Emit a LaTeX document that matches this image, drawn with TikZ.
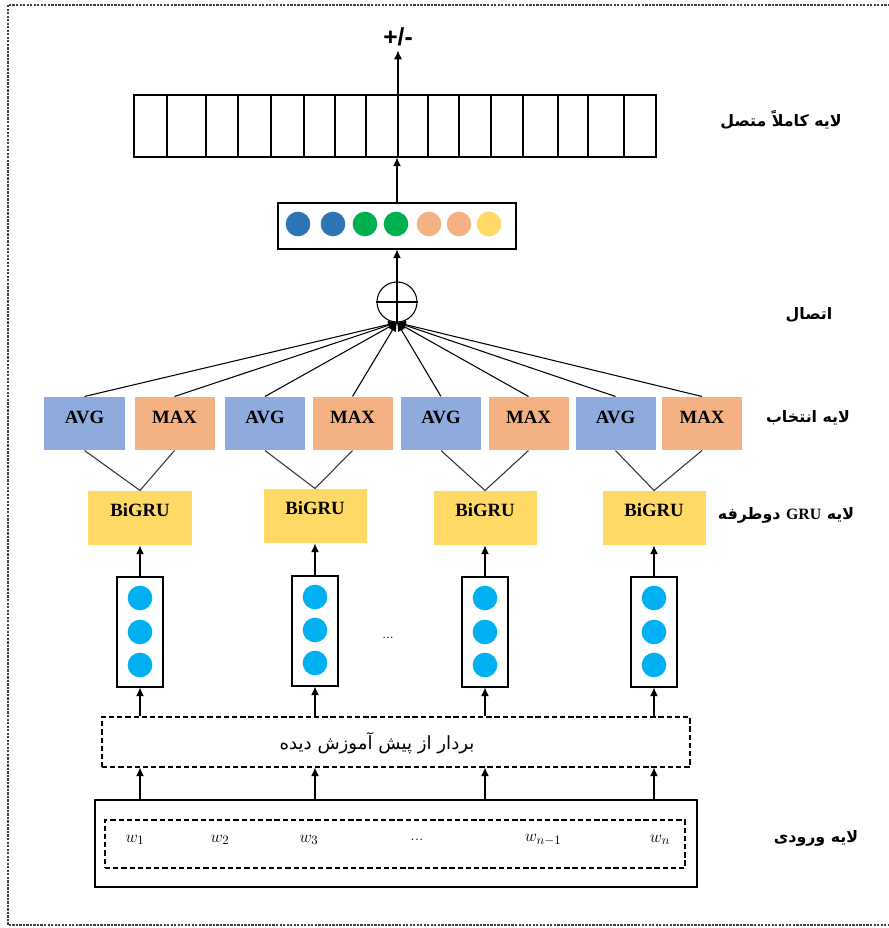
\documentclass[tikz,border=0pt]{standalone}
\usepackage{fontspec}
\usetikzlibrary{arrows.meta,calc}
\TeXXeTstate=1
\newfontfamily\farsi[Script=Arabic]{DejaVu Sans}
\newfontfamily\timesfont{Liberation Serif}
\newfontfamily\arialfont{Liberation Sans}
\definecolor{avgblue}{HTML}{8FAADC}
\definecolor{maxorange}{HTML}{F4B183}
\definecolor{gruyellow}{HTML}{FFD966}
\definecolor{embblue}{HTML}{00B0F0}
\definecolor{dotblue}{HTML}{2E75B6}
\definecolor{dotgreen}{HTML}{00B050}
\tikzset{
>={Latex[width=2.4mm,length=2.6mm]},
poolavg/.style={rectangle, fill=avgblue, minimum width=2.4cm, minimum height=1.59cm,
                text height=0.35cm, text depth=0.36cm,
                font=\timesfont\bfseries\fontsize{16}{18}\selectfont},
poolmax/.style={poolavg, fill=maxorange},
bigru/.style={rectangle, fill=gruyellow, minimum width=3.09cm, minimum height=1.62cm,
              text height=0.35cm, text depth=0.45cm,
              font=\timesfont\bfseries\fontsize{16}{18}\selectfont},
embvec/.style={rectangle, draw=black, line width=0.9pt, minimum width=1.38cm, minimum height=3.3cm},
ball/.style={circle, inner sep=0pt, minimum size=0.74cm},
dashbox/.style={draw, dash pattern=on 4.5pt off 2.5pt},
layerlabel/.style={font=\farsi\bfseries\fontsize{13.5}{15}\selectfont},
wlabel/.style={font=\fontsize{15}{17}\selectfont},
}

\begin{document}
\begin{tikzpicture}[x=0.03cm, y=-0.03cm, line width=0.9pt]

    \useasboundingbox (0,0) rectangle (888,928);
    \draw[black!75, dash pattern=on 2pt off 1pt] (8,5) rectangle (898,925);

    % fully connected layer
    \node[draw, inner sep=0pt, minimum width=15.66cm, minimum height=1.86cm] (fc) at (395,126) {};
    \foreach \x in {167,206,238,271,304,335,366,398,428,459,491,523,558,588,624}
        \draw (\x,95) -- (\x,157);
    \node[font=\arialfont\bfseries\fontsize{21}{23}\selectfont] (out) at (398,37) {+/-};
    \draw[->] (fc.north -| out) -- (out.south);

    % concatenated vector
    \node[draw, minimum width=7.14cm, minimum height=1.38cm] (cvec) at (397,226) {};
    \node[ball, fill=dotblue] (c1) at (298,224) {};
    \node[ball, fill=dotblue] (c2) at (333,224) {};
    \node[ball, fill=dotgreen] (c3) at (365,224) {};
    \node[ball, fill=dotgreen] (c4) at (396,224) {};
    \node[ball, fill=maxorange] (c5) at (429,224) {};
    \node[ball, fill=maxorange] (c6) at (459,224) {};
    \node[ball, fill=gruyellow] (c7) at (489,224) {};
    \draw[->] (cvec.north) -- (cvec.north |- fc.south);

    \node[circle, draw, inner sep=0pt, minimum size=1.2cm] (cat) at (397,302) {};
    \draw[line width=1.4pt] (cat.north) -- (cat.south) (cat.west) -- (cat.east);
    \draw[->] (cat.north) -- (cvec.south);

    % pooling layer
    \node[poolavg] (avg1) at (84.5,423.5) {AVG};
    \node[poolmax] (max1) at (174.5,423.5) {MAX};
    \node[poolavg] (avg2) at (265,423.5) {AVG};
    \node[poolmax] (max2) at (352.5,423.5) {MAX};
    \node[poolavg] (avg3) at (441,423.5) {AVG};
    \node[poolmax] (max3) at (528.5,423.5) {MAX};
    \node[poolavg] (avg4) at (615.5,423.5) {AVG};
    \node[poolmax] (max4) at (702,423.5) {MAX};

    \draw[->] (avg1.north) -- (cat.south);
    \draw[->] (max1.north) -- (cat.south);
    \draw[->] (avg2.north) -- (cat.south);
    \draw[->] (max2.north) -- (cat.south);
    \draw[->] (avg3.north) -- (cat.south);
    \draw[->] (max3.north) -- (cat.south);
    \draw[->] (avg4.north) -- (cat.south);
    \draw[->] (max4.north) -- (cat.south);

    % bidirectional GRU
    \node[bigru] (gru1) at (140,518) {BiGRU};
    \node[bigru] (gru2) at (315,516) {BiGRU};
    \node[bigru] (gru3) at (485,518) {BiGRU};
    \node[bigru] (gru4) at (654,518) {BiGRU};

    \draw[black!80] (avg1.south) -- (gru1.north) -- (max1.south);
    \draw[black!80] (avg2.south) -- (gru2.north) -- (max2.south);
    \draw[black!80] (avg3.south) -- (gru3.north) -- (max3.south);
    \draw[black!80] (avg4.south) -- (gru4.north) -- (max4.south);

    % word vectors
    \node[embvec] (emb1) at (140,632) {};
    \node[embvec] (emb2) at (315,631) {};
    \node[embvec] (emb3) at (485,632) {};
    \node[embvec] (emb4) at (654,632) {};
    \node[ball, fill=embblue] (e11) at (140,598) {};
    \node[ball, fill=embblue] (e12) at (140,632) {};
    \node[ball, fill=embblue] (e13) at (140,665) {};
    \node[ball, fill=embblue] (e21) at (315,597) {};
    \node[ball, fill=embblue] (e22) at (315,630) {};
    \node[ball, fill=embblue] (e23) at (315,663) {};
    \node[ball, fill=embblue] (e31) at (485,598) {};
    \node[ball, fill=embblue] (e32) at (485,632) {};
    \node[ball, fill=embblue] (e33) at (485,665) {};
    \node[ball, fill=embblue] (e41) at (654,598) {};
    \node[ball, fill=embblue] (e42) at (654,632) {};
    \node[ball, fill=embblue] (e43) at (654,665) {};
    \node[font=\fontsize{12}{13}\selectfont] (edots) at (388,638) {...};

    \draw[->] (emb1.north) -- (gru1.south);
    \draw[->] (emb2.north) -- (gru2.south);
    \draw[->] (emb3.north) -- (gru3.south);
    \draw[->] (emb4.north) -- (gru4.south);

    % pretrained embeddings
    \node[dashbox, minimum width=17.64cm, minimum height=1.5cm] (pre) at (396,742) {};
    \node[font=\farsi\fontsize{15.5}{17}\selectfont] (pretxt) at (377,743) {\beginR بردار از پیش آموزش دیده\endR};

    \draw[->] (pre.north -| emb1) -- (emb1.south);
    \draw[->] (pre.north -| emb2) -- (emb2.south);
    \draw[->] (pre.north -| emb3) -- (emb3.south);
    \draw[->] (pre.north -| emb4) -- (emb4.south);

    % input layer
    \node[draw, minimum width=18.06cm, minimum height=2.61cm] (inp) at (396,843.5) {};
    \node[dashbox, minimum width=17.4cm, minimum height=1.44cm] (seq) at (395,844) {};
    \node[wlabel] (w1) at (135,840) {$w_1$};
    \node[wlabel] (w2) at (220,840) {$w_2$};
    \node[wlabel] (w3) at (309,840) {$w_3$};
    \node[wlabel] (wdots) at (417,840) {...};
    \node[wlabel] (wm) at (543,840) {$w_{n-1}$};
    \node[wlabel] (wn) at (660,840) {$w_n$};

    \draw[->] (inp.north -| emb1) -- (emb1 |- pre.south);
    \draw[->] (inp.north -| emb2) -- (emb2 |- pre.south);
    \draw[->] (inp.north -| emb3) -- (emb3 |- pre.south);
    \draw[->] (inp.north -| emb4) -- (emb4 |- pre.south);

    % layer names
    \node[layerlabel] (lfc) at (781,120) {\beginR لایه کاملاً متصل\endR};
    \node[layerlabel] (lcat) at (809,315) {\beginR اتصال\endR};
    \node[layerlabel] (lpool) at (808,418) {\beginR لایه انتخاب\endR};
    \node[layerlabel] (lgru) at (786,515) {\beginR لایه \beginL{\timesfont GRU}\endL{} دوطرفه\endR};
    \node[layerlabel] (linp) at (816,838) {\beginR لایه ورودی\endR};

\end{tikzpicture}
\end{document}
